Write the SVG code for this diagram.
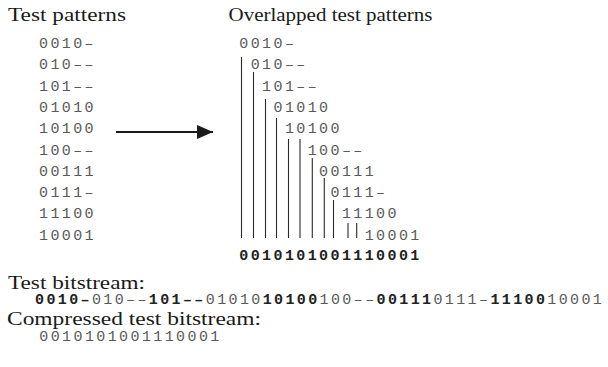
<svg xmlns="http://www.w3.org/2000/svg" width="608" height="367" viewBox="0 0 608 367">
<style>
.title{font-family:"Liberation Serif","Times New Roman",serif;font-size:19px;fill:#1a1a1a}
.mono{font-family:"Liberation Mono","Courier New",monospace;font-size:15px;letter-spacing:2.4px;fill:#5a5a5a}
.bold{font-family:"Liberation Mono","Courier New",monospace;font-size:15px;letter-spacing:2.4px;font-weight:bold;fill:#222}
.b{font-weight:bold;fill:#222}
.vl{stroke:#2a2a2a;stroke-width:1.1;fill:none}
</style>
<defs>
<marker id="ah" viewBox="0 0 16 14" refX="16" refY="7" markerWidth="16" markerHeight="14" markerUnits="userSpaceOnUse" orient="auto">
<path d="M0,0 L16,7 L0,14 Z" fill="#1a1a1a"/>
</marker>
</defs>
<rect width="608" height="367" fill="#fff"/>

<g id="test-patterns">
<text class="title" x="8" y="21" textLength="118" lengthAdjust="spacingAndGlyphs">Test patterns</text>
<text class="mono" x="39" y="48">0010–</text>
<text class="mono" x="39" y="69.3">010––</text>
<text class="mono" x="39" y="90.6">101––</text>
<text class="mono" x="39" y="111.9">01010</text>
<text class="mono" x="39" y="133.2">10100</text>
<text class="mono" x="39" y="154.5">100––</text>
<text class="mono" x="39" y="175.8">00111</text>
<text class="mono" x="39" y="197.1">0111–</text>
<text class="mono" x="39" y="218.4">11100</text>
<text class="mono" x="39" y="239.7">10001</text>
</g>

<g id="overlapped-test-patterns">
<text class="title" x="228.5" y="21" textLength="204" lengthAdjust="spacingAndGlyphs">Overlapped test patterns</text>
<text class="mono" x="239.3" y="48">0010–</text>
<text class="mono" x="250.7" y="69.3">010––</text>
<text class="mono" x="262.1" y="90.6">101––</text>
<text class="mono" x="273.5" y="111.9">01010</text>
<text class="mono" x="284.9" y="133.2">10100</text>
<text class="mono" x="307.7" y="154.5">100––</text>
<text class="mono" x="319.1" y="175.8">00111</text>
<text class="mono" x="330.5" y="197.1">0111–</text>
<text class="mono" x="341.9" y="218.4">11100</text>
<text class="mono" x="364.7" y="239.7">10001</text>
<g id="overlap-lines">
<line class="vl" x1="241.5" y1="57" x2="241.5" y2="238"/>
<line class="vl" x1="253.5" y1="72" x2="253.5" y2="238"/>
<line class="vl" x1="265.5" y1="99" x2="265.5" y2="238"/>
<line class="vl" x1="276.5" y1="118" x2="276.5" y2="238"/>
<line class="vl" x1="288.5" y1="139" x2="288.5" y2="238"/>
<line class="vl" x1="300" y1="139" x2="300" y2="238"/>
<line class="vl" x1="312.3" y1="158" x2="312.3" y2="238"/>
<line class="vl" x1="324.3" y1="178" x2="324.3" y2="238"/>
<line class="vl" x1="333.5" y1="200" x2="333.5" y2="238"/>
<line class="vl" x1="348" y1="223" x2="348" y2="238"/>
<line class="vl" x1="356.7" y1="223" x2="356.7" y2="238"/>
</g>
<text class="bold" x="239.3" y="260">0010101001110001</text>
</g>

<g id="connectors">
<line x1="116" y1="132" x2="213" y2="132" stroke="#1a1a1a" stroke-width="2" marker-end="url(#ah)"/>
</g>

<g id="test-bitstream">
<text class="title" x="8" y="288.5" textLength="137" lengthAdjust="spacingAndGlyphs">Test bitstream:</text>
<text class="mono" x="35" y="304" style="letter-spacing:2.38px"><tspan class="b">0010–</tspan>010––<tspan class="b">101––</tspan>01010<tspan class="b">10100</tspan>100––<tspan class="b">00111</tspan>0111–<tspan class="b">11100</tspan>10001</text>
</g>

<g id="compressed-bitstream">
<text class="title" x="7" y="324.5" style="font-size:18px" textLength="254" lengthAdjust="spacingAndGlyphs">Compressed test bitstream:</text>
<text class="mono" x="39.3" y="341">0010101001110001</text>
</g>
</svg>
